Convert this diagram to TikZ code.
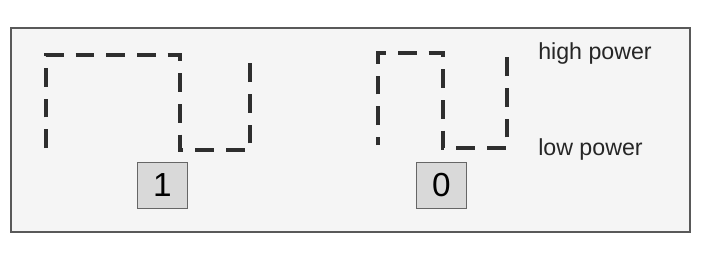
\documentclass[tikz,border=0pt]{standalone}
\usepackage{fontspec}
\setmainfont{Liberation Sans}
\usetikzlibrary{positioning}

\tikzset{
  frame/.style={line width=1.5pt, draw=black!65, fill=black!4},
  wave/.style={line width=3.2pt, draw=black!82, dash pattern=on 14pt off 9pt},
  bitbox/.style={draw=black!60, fill=black!15, line width=0.9pt, minimum width=38pt,
    minimum height=35pt, inner sep=0pt, font=\fontsize{25}{25}\selectfont},
  level/.style={anchor=west, inner sep=0pt, font=\fontsize{17.4}{19}\selectfont, text=black!85}
}

\begin{document}
\begin{tikzpicture}[x=0.75pt,y=-0.75pt]
  \useasboundingbox (0,0) rectangle (707,254);

  % outer panel
  \draw [frame] (11,28) rectangle (690,232);

  % waveform for bit 1: high first half, then low, then back up
  \draw [wave] (46,148) -- (46,55) -- (180,55) -- (180,150) -- (250,150) -- (250,56);

  % waveform for bit 0: short high pulse, then low
  \draw [wave, dash phase=8pt] (378,145) -- (378,53) -- (443,53) -- (443,148) -- (507,148) -- (507,53);

  % bit values
  \node [bitbox] (box1) at (162.5,185.5) {1};
  \node [bitbox] (box0) at (441.5,185.5) {0};

  % power levels
  \node [level] (hi) at (538,53) {high power};
  \node [level] (lo) at (538,149) {low power};
\end{tikzpicture}
\end{document}
